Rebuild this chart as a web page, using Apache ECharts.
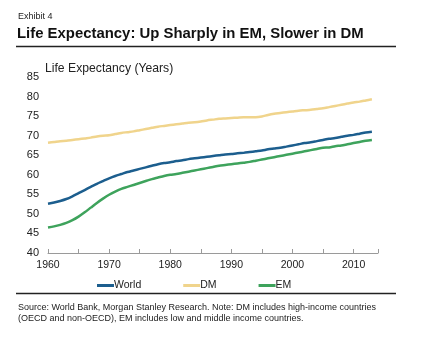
<!DOCTYPE html>
<html><head><meta charset="utf-8">
<script src="https://cdn.jsdelivr.net/npm/echarts@6/dist/echarts.min.js"></script>
<style>html,body{margin:0;padding:0;background:#fff}#c{width:423px;height:346px}</style>
</head><body><div id="c"></div>
<script>
const years = [];
for (let y = 1960; y <= 2013; y++) years.push(y);
const world = [52.6,52.9,53.3,53.8,54.5,55.3,56.1,56.9,57.7,58.4,59.1,59.7,60.2,60.7,61.1,61.5,61.9,62.3,62.7,63.0,63.2,63.5,63.7,64.0,64.2,64.4,64.6,64.8,65.0,65.2,65.3,65.5,65.6,65.8,66.0,66.2,66.5,66.7,66.9,67.2,67.5,67.8,68.1,68.3,68.6,68.9,69.2,69.4,69.7,70.0,70.2,70.5,70.8,71.0];
const dm = [68.2,68.4,68.6,68.7,68.9,69.1,69.3,69.5,69.8,70.0,70.1,70.4,70.7,70.9,71.1,71.4,71.7,72.0,72.3,72.5,72.7,72.9,73.1,73.3,73.4,73.6,73.9,74.1,74.3,74.4,74.5,74.6,74.7,74.7,74.7,74.9,75.3,75.6,75.8,76.0,76.2,76.4,76.5,76.6,76.8,77.0,77.3,77.6,77.9,78.2,78.5,78.7,79.0,79.3];
const em = [46.5,46.8,47.2,47.7,48.4,49.3,50.4,51.6,52.8,53.9,54.9,55.7,56.4,56.9,57.4,57.9,58.4,58.9,59.3,59.7,60.0,60.2,60.5,60.8,61.1,61.4,61.7,62.0,62.3,62.5,62.7,62.9,63.1,63.3,63.6,63.9,64.2,64.5,64.8,65.1,65.4,65.7,66.0,66.3,66.6,66.9,67.0,67.3,67.5,67.8,68.1,68.4,68.7,68.9];
const seriesNames = ['World','DM','EM'];
const colors = ['#1c5e8e','#f0d48c','#3ea35c'];
const pair = arr => years.map((y,i)=>[y,arr[i]]);
const font = 'Liberation Sans, Arial, sans-serif';
const chart = echarts.init(document.getElementById('c'), null, {renderer:'canvas'});
chart.setOption({
  animation:false,
  textStyle:{fontFamily:font},
  grid:{left:48,right:45,top:77,bottom:93,containLabel:false},
  xAxis:{type:'value',min:1960,max:2014,interval:5,
    axisLine:{lineStyle:{color:'#9a9a9a',width:1}},
    axisTick:{show:true,length:4,inside:true,lineStyle:{color:'#9a9a9a'}},
    splitLine:{show:false},
    axisLabel:{color:'#222',fontSize:10.5,margin:7,fontFamily:font,
      formatter:v=> (v%10===0 && v<=2010) ? String(v) : ''}},
  yAxis:{type:'value',min:40,max:85,interval:5,
    axisLine:{show:false},axisTick:{show:false},splitLine:{show:false},
    axisLabel:{color:'#222',fontSize:11,margin:9,fontFamily:font}},
  legend:{left:97,top:280,padding:0,itemGap:42,icon:'rect',itemWidth:17,itemHeight:3,
    textStyle:{fontSize:10.5,color:'#222',fontFamily:font,padding:[0,0,0,-5]},
    data:seriesNames},
  series:[
    {name:'World',type:'line',data:pair(world),showSymbol:false,smooth:0.3,lineStyle:{width:2.5,color:colors[0]},itemStyle:{color:colors[0]}},
    {name:'DM',type:'line',data:pair(dm),showSymbol:false,smooth:0.3,lineStyle:{width:2.5,color:colors[1]},itemStyle:{color:colors[1]}},
    {name:'EM',type:'line',data:pair(em),showSymbol:false,smooth:0.3,lineStyle:{width:2.5,color:colors[2]},itemStyle:{color:colors[2]}}
  ],
  graphic:[
    {type:'text',left:18,top:12,style:{text:'Exhibit 4',font:'9px '+font,fill:'#222'}},
    {type:'text',left:17,top:26,style:{text:'Life Expectancy: Up Sharply in EM, Slower in DM',font:'bold 14.9px '+font,fill:'#111'}},
    {type:'line',shape:{x1:16,y1:46.5,x2:396,y2:46.5},style:{stroke:'#222',lineWidth:1.5}},
    {type:'text',left:45,top:63,style:{text:'Life Expectancy (Years)',font:'12.2px '+font,fill:'#222'}},
    {type:'line',shape:{x1:16,y1:293.5,x2:396,y2:293.5},style:{stroke:'#222',lineWidth:1.5}},
    {type:'text',left:18,top:303,style:{text:'Source: World Bank, Morgan Stanley Research. Note: DM includes high-income countries',font:'9px '+font,fill:'#222'}},
    {type:'text',left:18,top:314.5,style:{text:'(OECD and non-OECD), EM includes low and middle income countries.',font:'9px '+font,fill:'#222'}}
  ]
});
</script></body></html>
